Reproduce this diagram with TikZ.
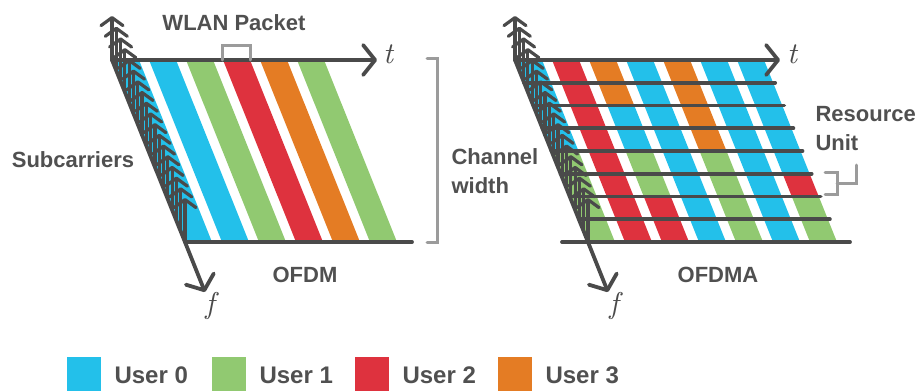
\documentclass[tikz,border=0pt]{standalone}
\usepackage{fontspec}
\setmainfont{Liberation Sans}
\newfontfamily\lmit{lmroman10-italic.otf}
\usetikzlibrary{arrows.meta,calc}
\definecolor{user0}{RGB}{35,192,234}
\definecolor{user1}{RGB}{145,201,113}
\definecolor{user2}{RGB}{222,50,62}
\definecolor{user3}{RGB}{228,124,36}
\definecolor{axgray}{RGB}{74,74,74}
\definecolor{txtgray}{RGB}{80,80,80}
\definecolor{brgray}{RGB}{155,155,155}

\begin{document}
\begin{tikzpicture}[x=1pt, y=-1pt,
  every node/.style={font=\fontsize{22}{29}\selectfont\bfseries, text=txtgray},
  axis/.style={draw=axgray, line width=3.8pt, line cap=round},
  ax/.style={axis, -{Straight Barb[round, length=12pt, width=30pt]}},
  sub/.style={draw=axgray, line width=3.2pt, line cap=round,
              -{Straight Barb[round, length=8pt, width=22pt]}},
  brk/.style={draw=brgray, line width=3pt, line cap=round},
  var/.style={font=\fontsize{30}{32}\selectfont\lmit, text=axgray},
  leg/.style={font=\fontsize{24}{28}\selectfont\bfseries, anchor=west}
]
\useasboundingbox (0,0) rectangle (922,391);

% OFDM
\coordinate (Lo) at (112,60);
\coordinate (Lt) at (377,60);
\coordinate (Lb) at (185,242);
\coordinate (Le) at (412,242);
\coordinate (Lf) at (205,292);
\foreach \c/\col in {0/user0,1/user0,2/user1,3/user2,4/user3,5/user1}
  \fill[\col] ($(Lo)+(37*\c,0)$) -- ++(27,0) -- ++(73,182) -- ++(-27,0) -- cycle;
\foreach \i in {0,...,17}
  \draw[sub] ($(Lo)!\i/17!(Lb)$) -- ++(0,-44);
\draw[axis] (Lb) -- (Le);
\draw[ax] (Lo) -- (Lt);
\draw[ax] (Lo) -- (Lf);
\draw[brk] (222,60) -- (222,45) -- (250,45) -- (250,60);
\draw[brk] (427,58) -- (437,58) -- (437,242) -- (427,242);

\node (wlan) at (234,23) {WLAN Packet};
\node (subc) at (73,160) {Subcarriers};
\node (ofdm) at (305,275) {OFDM};
\node[var] (lt) at (388,54) {t};
\node[var] (lf) at (210,306) {f};
\node[align=left, anchor=west] (chw) at (448,171) {Channel\\width};

% OFDMA
\coordinate (Ro) at (515,60);
\coordinate (Rt) at (780,60);
\coordinate (Rb) at (588,242);
\coordinate (Rl) at (562,242);
\coordinate (Re) at (850,242);
\coordinate (Rf) at (608,292);
\foreach \row [count=\r from 0] in {{0,2,3,0,3,0,0},{0,2,3,0,3,0,0},
    {0,2,0,0,3,0,0},{0,2,0,0,3,0,0},{1,2,1,0,1,0,0},{1,2,1,0,1,0,2},
    {1,2,2,0,1,0,1},{1,2,2,0,1,0,1}}
  \foreach \u [count=\c from 0] in \row
    \fill[user\u] ($(Ro)+(37*\c+9.125*\r,22.75*\r)$) -- ++(27,0)
      -- ++(9.125,22.75) -- ++(-27,0) -- cycle;
\foreach \r in {1,...,7}
  \draw[axis] ($(Ro)!\r/8!(Rb)$) -- ++(251,0);
\foreach \i in {0,...,17}
  \draw[sub] ($(Ro)!\i/17!(Rb)$) -- ++(0,-44);
\draw[axis] (Rl) -- (Re);
\draw[ax] (Ro) -- (Rt);
\draw[ax] (Ro) -- (Rf);
\draw[brk] (825,172) -- (837,172) -- (837,194) -- (825,194);
\draw[brk] (837,183) -- (856,183) -- (856,165);

\node (ofdma) at (718,275) {OFDMA};
\node[var] (rt) at (792,54) {t};
\node[var] (rf) at (614,306) {f};
\node[align=left, anchor=west] (ru) at (812,129) {Resource\\Unit};

% legend
\foreach \u/\x in {0/67,1/212,2/355,3/498} {
  \fill[user\u] (\x,357) rectangle ++(34,34);
  \node[leg] (leg\u) at (\x+44,375) {User \u};
}
\end{tikzpicture}
\end{document}
